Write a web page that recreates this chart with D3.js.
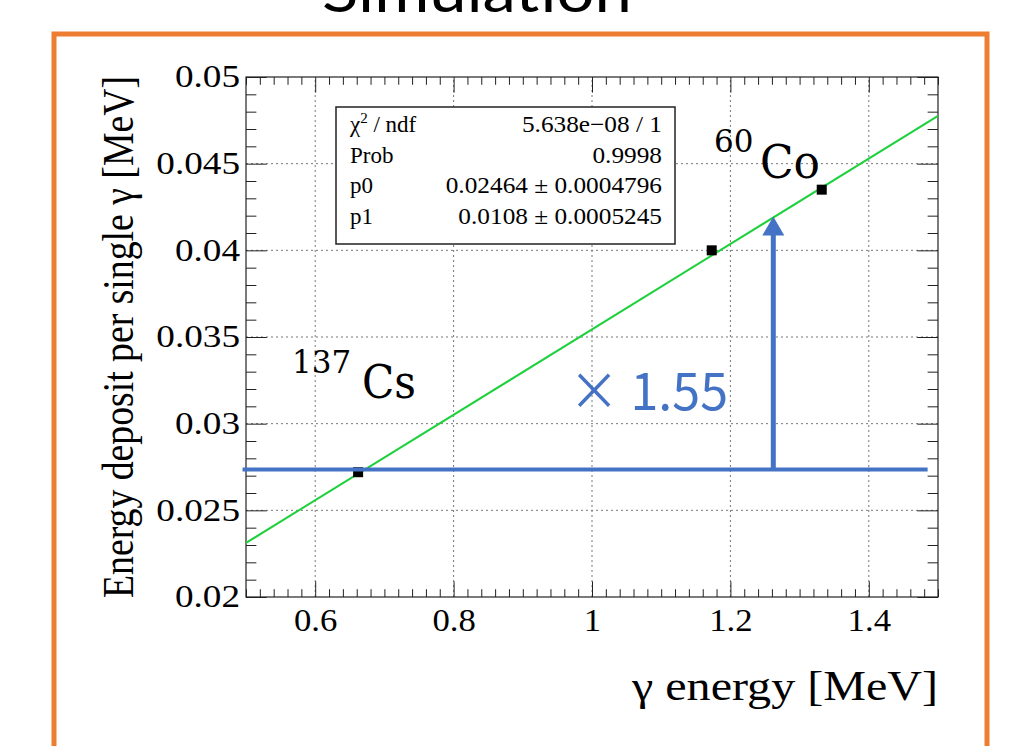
<!DOCTYPE html>
<html>
<head>
<meta charset="utf-8">
<script src="https://cdn.jsdelivr.net/npm/d3@7"></script>
<style>
  body { margin: 0; background: #fff; }
  svg text { font-family: "Liberation Serif", "Times New Roman", serif; fill: #000; }
</style>
</head>
<body>
<svg id="chart" width="1031" height="746"></svg>
<script>
// measured points (gamma energy in MeV, deposit per gamma in MeV)
const energy = [0.662, 1.173, 1.332];
const deposit = [0.0272, 0.0400, 0.0435];

// fit result, the drawn line is p1 + p0 * E
const fitP0 = 0.02464;
const fitP1 = 0.0108;

const xTickValues = [0.6, 0.8, 1, 1.2, 1.4];
const xTickLabels = ["0.6", "0.8", "1", "1.2", "1.4"];
const yTickValues = [0.02, 0.025, 0.03, 0.035, 0.04, 0.045, 0.05];
const yTickLabels = ["0.02", "0.025", "0.03", "0.035", "0.04", "0.045", "0.05"];

const statNames = ["χ", "Prob", "p0", "p1"];
const statValues = ["5.638e\u221208 / 1", "0.9998", "0.02464 ± 0.0004796", "0.0108 ± 0.0005245"];

// slide overlay: reference level of Cs and the x1.55 arrow
const refLevel = 0.02735;
const refFrom = 0.495, refTo = 1.485;
const arrowAt = 1.262, arrowTop = 0.04195;
const ratioLabel = "× 1.55";

const svg = d3.select('#chart');
const blue = '#4472c4';

const x = d3.scaleLinear().domain([0.5, 1.5]).range([246, 938]);
const y = d3.scaleLinear().domain([0.02, 0.05]).range([597, 77]);

// stretch a text element horizontally by k
function stretch(sel, k) {
    sel.each(function () {
        const w = this.getComputedTextLength();
        d3.select(this).attr('textLength', w * k).attr('lengthAdjust', 'spacingAndGlyphs');
    });
}
function fit(sel, w) {
    sel.attr('textLength', w).attr('lengthAdjust', 'spacingAndGlyphs');
}

svg.append('rect').attr('width', 1031).attr('height', 746).attr('fill', '#fff');

// slide title, mostly cut off at the top
svg.append('text').text('Simulation')
    .attr('x', 477).attr('y', 12).attr('text-anchor', 'middle')
    .style('font-family', 'Lato, "Open Sans", sans-serif').style('font-size', '58px')
    .call(fit, 310);

svg.append('rect')
    .attr('x', 54).attr('y', 34).attr('width', 933).attr('height', 800)
    .attr('fill', 'none').attr('stroke', '#ed7d31').attr('stroke-width', 5);

// grid
const grid = svg.append('g').attr('stroke', '#777').attr('stroke-width', 1).attr('stroke-dasharray', '2,3');
grid.selectAll('line.gx').data(xTickValues).enter().append('line')
    .attr('x1', d => x(d)).attr('x2', d => x(d)).attr('y1', y(0.02)).attr('y2', y(0.05));
grid.selectAll('line.gy').data(yTickValues.slice(1, -1)).enter().append('line')
    .attr('x1', x(0.5)).attr('x2', x(1.5)).attr('y1', d => y(d)).attr('y2', d => y(d));

// ticks inside the frame, ROOT style
const xLen = (y(0.02) - y(0.05)) * 0.03, yLen = (x(1.5) - x(0.5)) * 0.03;
const xMinor = d3.range(25, 76).map(i => i * 0.02).filter(v => !xTickValues.some(t => Math.abs(t - v) < 1e-6));
const yMinor = d3.range(20, 51).map(i => i / 1000).filter(v => !yTickValues.some(t => Math.abs(t - v) < 1e-6));

function axisG(axis, tx, ty) {
    const g = svg.append('g').attr('transform', `translate(${tx},${ty})`).call(axis);
    g.select('.domain').remove();
    g.selectAll('line').attr('stroke', '#222');
    return g;
}

const xAxis = axisG(d3.axisBottom(x).tickValues(xTickValues).tickSize(-xLen).tickPadding(12)
    .tickFormat((d, i) => xTickLabels[i]), 0, y(0.02));
xAxis.selectAll('text').style('font-size', '31px').call(stretch, 1.12);
axisG(d3.axisBottom(x).tickValues(xMinor).tickSize(-xLen / 2).tickFormat(''), 0, y(0.02));
axisG(d3.axisTop(x).tickValues(xTickValues).tickSize(-xLen).tickFormat(''), 0, y(0.05));
axisG(d3.axisTop(x).tickValues(xMinor).tickSize(-xLen / 2).tickFormat(''), 0, y(0.05));

const yAxis = axisG(d3.axisLeft(y).tickValues(yTickValues).tickSize(-yLen).tickPadding(6)
    .tickFormat((d, i) => yTickLabels[i]), x(0.5), 0);
yAxis.selectAll('text').style('font-size', '31px').call(stretch, 1.2);
axisG(d3.axisLeft(y).tickValues(yMinor).tickSize(-yLen / 2).tickFormat(''), x(0.5), 0);
axisG(d3.axisRight(y).tickValues(yTickValues).tickSize(-yLen).tickFormat(''), x(1.5), 0);
axisG(d3.axisRight(y).tickValues(yMinor).tickSize(-yLen / 2).tickFormat(''), x(1.5), 0);

svg.append('rect')
    .attr('x', x(0.5)).attr('y', y(0.05)).attr('width', x(1.5) - x(0.5)).attr('height', y(0.02) - y(0.05))
    .attr('fill', 'none').attr('stroke', '#222').attr('stroke-width', 1.2);

// axis titles
svg.append('text').text('γ energy [MeV]')
    .attr('x', x(1.5)).attr('y', 700).attr('text-anchor', 'end').style('font-size', '42px')
    .call(fit, 306);
svg.append('text').text('Energy deposit per single γ [MeV]')
    .attr('transform', `translate(133,${(y(0.02) + y(0.05)) / 2}) rotate(-90)`)
    .attr('text-anchor', 'middle').style('font-size', '45px')
    .call(fit, 522);

// fit line and points
const fitLine = d3.line().x(d => x(d)).y(d => y(fitP1 + fitP0 * d));
svg.append('path').datum(x.domain())
    .attr('d', fitLine).attr('fill', 'none').attr('stroke', '#1ed13c').attr('stroke-width', 2);

svg.selectAll('rect.pt').data(energy).enter().append('rect')
    .attr('x', d => x(d) - 5).attr('y', (d, i) => y(deposit[i]) - 5)
    .attr('width', 10).attr('height', 10).attr('fill', '#000');

// stats box
const box = svg.append('g');
box.append('rect').attr('x', 336).attr('y', 107).attr('width', 339).attr('height', 137)
    .attr('fill', '#fff').attr('stroke', '#222').attr('stroke-width', 1.5);
statNames.forEach((name, i) => {
    const t = box.append('text').attr('x', 350).attr('y', 132 + i * 30.5).style('font-size', '23px');
    t.text(name);
    if (i === 0) {
        t.append('tspan').text('2').attr('dy', -9).style('font-size', '15px');
        t.append('tspan').text(' / ndf').attr('dy', 9);
    }
    box.append('text').text(statValues[i]).attr('x', 662).attr('y', 132 + i * 30.5)
        .attr('text-anchor', 'end').style('font-size', '23px').call(stretch, 1.1);
});

// isotope labels
function isotope(num, sym, xNum, yNum, xSym, ySym, wSym) {
    svg.append('text').text(num).attr('x', xNum).attr('y', yNum)
        .style('font-family', '"DejaVu Serif", serif').style('font-size', '31px');
    svg.append('text').text(sym).attr('x', xSym).attr('y', ySym)
        .style('font-family', '"DejaVu Serif", serif').style('font-size', '47px').call(fit, wSym);
}
isotope('137', 'Cs', 292, 373, 362, 398, 54);
isotope('60', 'Co', 714, 152, 760, 178, 60);

// reference level and arrow
svg.append('line')
    .attr('x1', x(refFrom)).attr('x2', x(refTo)).attr('y1', y(refLevel)).attr('y2', y(refLevel))
    .attr('stroke', blue).attr('stroke-width', 4);
svg.append('line')
    .attr('x1', x(arrowAt)).attr('x2', x(arrowAt)).attr('y1', y(refLevel)).attr('y2', y(arrowTop) + 15)
    .attr('stroke', blue).attr('stroke-width', 5);
svg.append('path')
    .attr('d', `M${x(arrowAt)},${y(arrowTop)} l11,19 l-22,0 Z`).attr('fill', blue);

svg.append('text').text(ratioLabel)
    .attr('x', 569).attr('y', 410)
    .style('font-family', '"Noto Sans CJK JP", "Noto Sans", sans-serif').style('font-size', '52px')
    .style('fill', blue).call(fit, 159);
</script>
</body>
</html>
